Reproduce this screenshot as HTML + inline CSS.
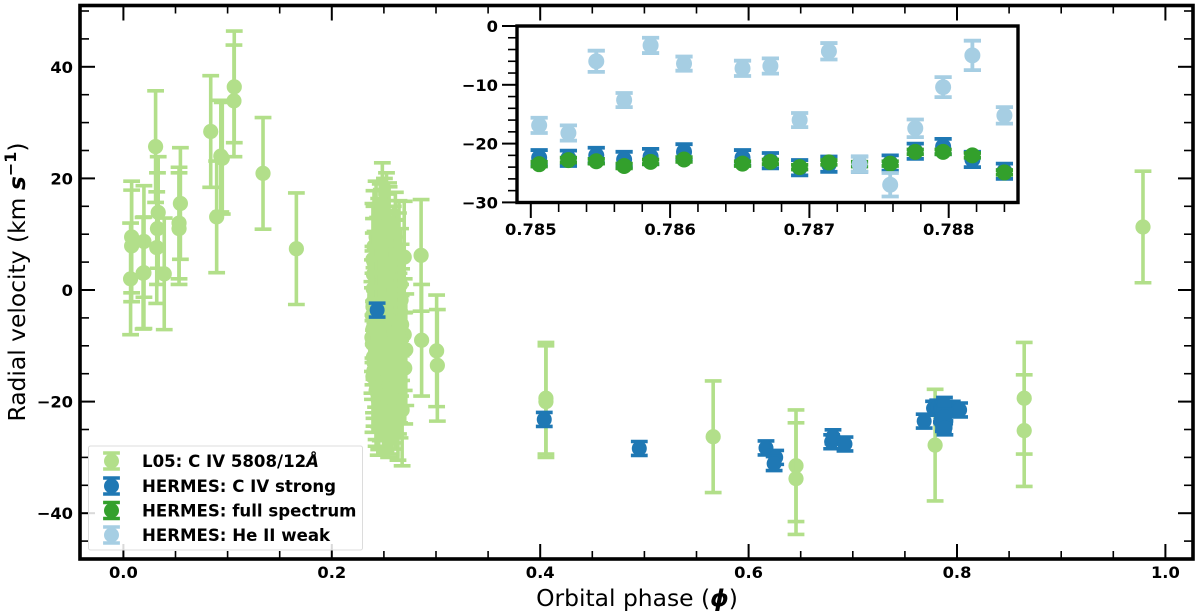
<!DOCTYPE html>
<html lang="en">
<head>
<meta charset="utf-8">
<title>Radial velocity vs orbital phase</title>
<style>
html,body{margin:0;padding:0;background:#fff;width:1200px;height:613px;overflow:hidden}
svg{display:block}
text{font-family:"DejaVu Sans","Liberation Sans",sans-serif;fill:#000}
.tick{font-size:16.3px;font-weight:bold}
.leg{font-size:16.6px;font-weight:bold}
.axis{font-size:23.4px}
</style>
</head>
<body>
<svg id="chart" xmlns="http://www.w3.org/2000/svg" width="1200" height="613" viewBox="0 0 1200 613">
<g id="main-marks"></g>
<g id="main-ticks"></g>
<rect x="80" y="5.5" width="1113" height="553.5" fill="none" stroke="#000" stroke-width="3.6"/>
<rect x="517" y="26" width="501" height="176.5" fill="#fff"/>
<g id="inset-marks"></g>
<g id="inset-ticks"></g>
<rect x="517" y="26" width="501" height="176.5" fill="none" stroke="#000" stroke-width="3.4"/>
<text class="axis" x="637" y="606" text-anchor="middle">Orbital phase (<tspan font-weight="bold" font-style="italic">ϕ</tspan>)</text>
<text class="axis" transform="translate(25,282) rotate(-90)" text-anchor="middle">Radial velocity (km <tspan font-weight="bold" font-style="italic">s</tspan><tspan font-weight="bold" font-size="16px" dy="-9">−1</tspan><tspan dy="9">)</tspan></text>
<g>
<rect x="88.5" y="446" width="274" height="104" rx="2" fill="#fff" fill-opacity="0.85" stroke="#dcdcdc" stroke-width="1"/>
<g id="legend-handles"></g>
<text class="leg" x="142" y="467">L05: C IV 5808/12<tspan font-style="italic">Å</tspan></text>
<text class="leg" x="142" y="492">HERMES: C IV strong</text>
<text class="leg" x="142" y="516.5">HERMES: full spectrum</text>
<text class="leg" x="142" y="541">HERMES: He II weak</text>
</g>
</svg>
<script>
// L05 C IV 5808/12 measurements (main panel)
const l05Phase = [0.0069,0.0079,0.0079,0.0197,0.0197,0.0189,0.0309,0.0334,0.0327,0.032,0.0392,0.0547,0.0534,0.0534,0.0838,0.0895,0.0949,0.0935,0.1064,0.1061,0.134,0.166,
0.2485,0.2525,0.2505,0.2425,0.255,0.2475,0.2525,0.2645,0.2695,0.246,0.2405,0.255,0.2495,0.244,0.26,0.2525,0.248,0.2555,0.2415,0.2505,0.2585,0.2445,0.2535,0.262,0.2475,0.2395,0.2565,0.2505,0.244,0.2605,0.2535,0.2405,0.2475,0.2645,0.2555,0.2695,0.2385,0.2465,0.2585,0.252,0.271,0.242,0.256,0.2645,0.2485,0.2405,0.2535,0.27,0.245,0.2595,0.2395,0.2515,0.2655,0.2465,0.256,0.2425,0.2605,0.2505,0.2445,0.2545,0.2635,0.2675,
0.2405,0.2465,0.2545,0.261,0.2395,0.245,0.251,0.259,0.264,0.24,0.246,0.253,0.26,0.266,0.2398,0.247,0.254,0.261,0.2665,0.2395,0.2465,0.2525,0.26,0.265,0.239,0.2455,0.254,0.2615,0.267,0.2395,0.247,0.253,0.261,0.266,0.239,0.246,0.2535,0.2605,0.2665,0.24,0.247,0.254,0.261,0.265,0.2405,0.2465,0.253,0.26,0.264,0.2425,0.249,0.255,0.2605,0.245,0.252,0.257,
0.2857,0.2862,0.3006,0.3013,0.4055,0.4055,0.566,0.6455,0.6455,0.779,0.8645,0.8645,0.9785];
const l05Velocity = [2.0,9.5,7.9,8.7,3.1,3.0,25.7,13.9,11.0,7.6,2.9,15.5,12.0,11.0,28.4,13.1,23.6,24.0,36.4,33.9,20.9,7.4,
12.8,11.0,10.0,9.5,8.5,8.0,7.2,6.0,5.9,5.5,5.0,4.2,3.6,3.0,2.5,2.0,1.5,1.0,0.5,0.0,-0.5,-1.0,-1.5,-2.0,-2.5,-3.0,-3.5,-4.0,-4.5,-5.0,-5.5,-6.0,-6.5,-7.0,-7.5,-8.0,-8.5,-9.0,-9.5,-10.0,-10.7,-11.0,-11.5,-12.0,-12.5,-13.0,-13.5,-14.0,-14.5,-15.0,-15.5,-16.0,-16.5,-17.0,-17.5,-18.0,-18.5,-19.0,-19.6,-20.0,-20.5,-21.5,
7.8,9.0,9.2,7.5,5.5,6.4,6.0,5.0,3.8,2.8,3.2,3.0,2.6,1.0,0.2,0.6,0.4,-0.5,-1.8,-2.2,-2.0,-1.9,-2.8,-4.0,-4.6,-4.2,-4.4,-5.2,-6.2,-7.0,-6.8,-7.1,-7.6,-9.0,-9.6,-9.4,-9.6,-10.0,-11.0,-12.0,-11.6,-12.2,-12.5,-13.8,-14.4,-14.2,-14.6,-15.0,-15.8,-16.8,-16.6,-17.0,-17.4,-18.6,-18.8,-19.4,
6.2,-9.0,-10.9,-13.5,-19.4,-20.0,-26.3,-31.5,-33.8,-27.8,-19.4,-25.2,11.3];
const l05Error = 10;

// HERMES C IV strong measurements outside the inset window (main panel)
const strongExtraPhase = [0.2435,0.4039,0.4951,0.6167,0.626,0.6245,0.6797,0.681,0.6925,0.7685,0.7775,0.7815,0.7955,0.8025];
const strongExtraVelocity = [-3.6,-23.2,-28.4,-28.3,-30.0,-31.1,-27.2,-26.3,-27.6,-23.5,-21.2,-21.0,-21.2,-21.5];
const strongMainError = 1.25;

// Inset: shared phases and per-series velocities
const insetPhase = [0.78506,0.78527,0.78547,0.78567,0.78586,0.7861,0.78652,0.78672,0.78693,0.78714,0.78736,0.78758,0.78776,0.78796,0.78817,0.7884];
const strongVelocity = [-22.4,-22.5,-22.0,-22.7,-22.2,-21.4,-22.4,-22.9,-24.1,-23.5,-23.5,-23.3,-21.3,-20.5,-22.7,-24.7];
const strongError = [1.3,1.3,1.3,1.3,1.3,1.3,1.3,1.3,1.3,1.3,1.3,1.3,1.3,1.3,1.3,1.3];
const fullVelocity = [-23.5,-22.8,-23.0,-23.8,-23.1,-22.7,-23.4,-23.1,-24.0,-23.2,-23.5,-23.4,-21.4,-21.4,-22.0,-24.9];
const fullError = [0.4,0.4,0.4,0.4,0.4,0.4,0.4,0.4,0.4,0.4,0.4,0.4,0.4,0.4,0.4,0.4];
const weakVelocity = [-16.9,-18.2,-6.0,-12.6,-3.3,-6.4,-7.2,-6.8,-16.0,-4.3,-23.5,-27.0,-17.4,-10.4,-5.0,-15.2];
const weakError = [1.3,1.3,1.8,1.2,1.3,1.2,1.3,1.3,1.2,1.4,1.3,2.0,1.5,1.7,2.5,1.4];

// Tick values
const mainXTicks = [0,0.2,0.4,0.6,0.8,1.0];
const mainXTickLabels = ["0.0","0.2","0.4","0.6","0.8","1.0"];
const mainYTicks = [-40,-20,0,20,40];
const mainYTickLabels = ["−40","−20","0","20","40"];
const insetXTicks = [0.785,0.786,0.787,0.788];
const insetXTickLabels = ["0.785","0.786","0.787","0.788"];
const insetYTicks = [-30,-20,-10,0];
const insetYTickLabels = ["−30","−20","−10","0"];

const NS = "http://www.w3.org/2000/svg";
const L05_COLOR = "#b2df8a", STRONG_COLOR = "#1f78b4", FULL_COLOR = "#33a02c", WEAK_COLOR = "#a6cee3";

const mainX = p => 123.4 + 1042 * p;
const mainY = v => 290 - 5.58 * v;
const insetX = p => 530.8 + 139300 * (p - 0.785);
const insetY = v => 26 - 5.88 * v;

function line(parent, x1, y1, x2, y2, stroke, width) {
  const l = document.createElementNS(NS, "line");
  l.setAttribute("x1", x1);
  l.setAttribute("y1", y1);
  l.setAttribute("x2", x2);
  l.setAttribute("y2", y2);
  l.setAttribute("stroke", stroke);
  l.setAttribute("stroke-width", width);
  parent.appendChild(l);
  return l;
}

function errorPoint(parent, cx, cy, yTop, yBot, color, r, capHalf, lw, name) {
  const g = document.createElementNS(NS, "g");
  
  
  line(g, cx, yTop, cx, yBot, color, lw);
  line(g, cx - capHalf, yTop, cx + capHalf, yTop, color, lw);
  line(g, cx - capHalf, yBot, cx + capHalf, yBot, color, lw);
  const c = document.createElementNS(NS, "circle");
  c.setAttribute("cx", cx);
  c.setAttribute("cy", cy);
  c.setAttribute("r", r);
  c.setAttribute("fill", color);
  g.appendChild(c);
  parent.appendChild(g);
}

function label(parent, x, y, str, anchor, name) {
  const t = document.createElementNS(NS, "text");
  t.setAttribute("class", "tick");
  t.setAttribute("x", x);
  t.setAttribute("y", y);
  t.setAttribute("text-anchor", anchor);
  
  
  t.textContent = str;
  parent.appendChild(t);
}

// Main panel marks
const mainMarks = document.getElementById("main-marks");
l05Phase.forEach((p, i) => {
  const v = l05Velocity[i];
  errorPoint(mainMarks, mainX(p), mainY(v), mainY(v + l05Error), mainY(v - l05Error), L05_COLOR, 7.6, 8.4, 3.6, "l05-point");
});
strongExtraPhase.forEach((p, i) => {
  const v = strongExtraVelocity[i];
  errorPoint(mainMarks, mainX(p), mainY(v), mainY(v + strongMainError), mainY(v - strongMainError), STRONG_COLOR, 7.5, 8.4, 3.6, "civ-strong-point");
});
insetPhase.forEach((p, i) => {
  const v = strongVelocity[i];
  errorPoint(mainMarks, mainX(p), mainY(v), mainY(v + strongMainError), mainY(v - strongMainError), STRONG_COLOR, 7.5, 8.4, 3.6, "civ-strong-point");
});

// Main panel ticks (inward on all four sides)
const mainTicks = document.getElementById("main-ticks");
for (let k = 0; k <= 21; k++) {
  const p = k * 0.05;
  if (p > 1.03) break;
  const major = k % 4 === 0;
  const len = major ? 15 : 8;
  const w = major ? 2 : 1.6;
  line(mainTicks, mainX(p), 559, mainX(p), 559 - len, "#000", w);
  line(mainTicks, mainX(p), 5.5, mainX(p), 5.5 + len, "#000", w);
}
for (let k = -9; k <= 10; k++) {
  const v = k * 5;
  const major = k % 4 === 0;
  const len = major ? 15 : 9;
  const w = major ? 2 : 1.6;
  line(mainTicks, 80, mainY(v), 80 + len, mainY(v), "#000", w);
  line(mainTicks, 1193, mainY(v), 1193 - len, mainY(v), "#000", w);
}
mainXTicks.forEach((p, i) => {
  label(mainTicks, mainX(p), 578, mainXTickLabels[i], "middle", "x-tick-label");
});
mainYTicks.forEach((v, i) => {
  label(mainTicks, 73, mainY(v) + 6, mainYTickLabels[i], "end", "y-tick-label");
});

// Inset marks
const insetMarks = document.getElementById("inset-marks");
function drawInsetSeries(values, errors, color, name) {
  insetPhase.forEach((p, i) => {
    const v = values[i];
    errorPoint(insetMarks, insetX(p), insetY(v), insetY(v + errors[i]), insetY(v - errors[i]), color, 8, 8.6, 3.8, name);
  });
}
drawInsetSeries(strongVelocity, strongError, STRONG_COLOR, "inset-civ-strong-point");
drawInsetSeries(fullVelocity, fullError, FULL_COLOR, "inset-full-spectrum-point");
drawInsetSeries(weakVelocity, weakError, WEAK_COLOR, "inset-heii-weak-point");

// Inset ticks (outward, left and bottom)
const insetTicks = document.getElementById("inset-ticks");
for (let k = 0; k <= 17; k++) {
  const p = 0.785 + k * 0.0002;
  const major = k % 5 === 0;
  line(insetTicks, insetX(p), 202.5, insetX(p), major ? 218 : 212, "#000", major ? 2 : 1.6);
}
for (let k = 0; k <= 15; k++) {
  const v = -2 * k;
  const major = k % 5 === 0;
  line(insetTicks, 517, insetY(v), major ? 502 : 508, insetY(v), "#000", major ? 2 : 1.6);
}
insetXTicks.forEach((p, i) => {
  label(insetTicks, insetX(p), 235, insetXTickLabels[i], "middle", "inset-x-tick-label");
});
insetYTicks.forEach((v, i) => {
  label(insetTicks, 498, insetY(v) + 6, insetYTickLabels[i], "end", "inset-y-tick-label");
});

// Legend handles
const legendHandles = document.getElementById("legend-handles");
errorPoint(legendHandles, 111.5, 461, 453, 469, L05_COLOR, 7.5, 8.4, 3.4, "legend-handle-l05");
errorPoint(legendHandles, 111.5, 486, 478, 494, STRONG_COLOR, 7.5, 8.4, 3.4, "legend-handle-civ-strong");
errorPoint(legendHandles, 111.5, 510.5, 502.5, 518.5, FULL_COLOR, 7.5, 8.4, 3.4, "legend-handle-full-spectrum");
errorPoint(legendHandles, 111.5, 535, 527, 543, WEAK_COLOR, 7.5, 8.4, 3.4, "legend-handle-heii-weak");
</script>
</body>
</html>
